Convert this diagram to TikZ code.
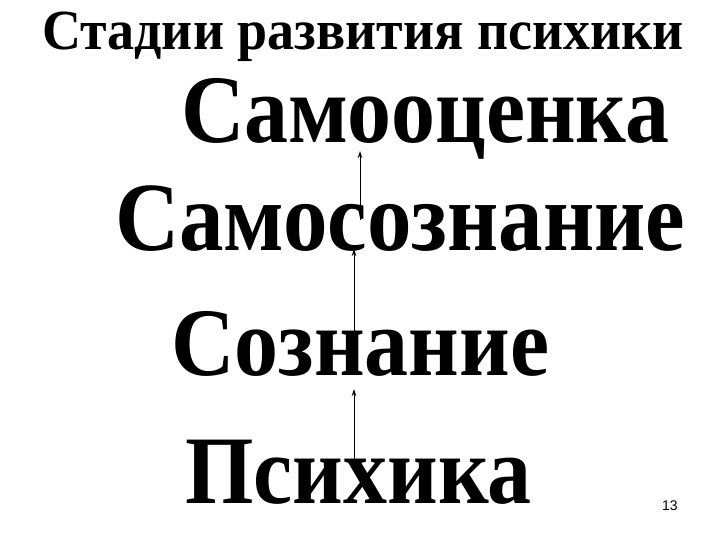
\documentclass[tikz,border=0pt]{standalone}
\usepackage{fontspec}
\setmainfont{Liberation Serif}
\newfontfamily\numfont{Liberation Sans}
\usepackage{graphicx}
\usepackage{tikz}
\usetikzlibrary{arrows.meta}

% words of the stages are set a bit taller than the font
\newcommand{\tallword}[1]{\scalebox{1}[1.1]{#1}}

\tikzset{
	stage/.style={font=\fontsize{88}{92}\selectfont\bfseries, inner sep=0pt, anchor=base west},
	upline/.style={line width=0.9pt, -{Stealth[length=7pt,width=4.5pt]}},
}

\begin{document}
\begin{tikzpicture}[x=1pt,y=1pt,yscale=-1,xscale=1]
	%set diagram to the size of the slide
	\useasboundingbox [fill=white] (0,0) rectangle (720,540);
	
	% Title
	\node (title) at (42,50) [anchor=base west, inner sep=0pt, font=\fontsize{54}{58}\selectfont\bfseries] {\scalebox{1}[1.05]{Стадии развития психики}};
	
	% Text Node
	\node (selfest) at (181,143) [stage] {\tallword{Самооценка}};
	% Text Node
	\node (selfcon) at (115,250) [stage, font=\fontsize{89}{93}\selectfont\bfseries] {\tallword{Самосознание}};
	% Text Node
	\node (consc) at (171,375) [stage] {\tallword{Сознание}};
	% Text Node
	\node (psyche) at (185,503) [stage] {\tallword{Психика}};
	
	% page number
	\node (pagenum) at (662,510) [anchor=base west, inner sep=0pt, font=\numfont\fontsize{14}{16}\selectfont] {13};
	
	% arrow ends
	\coordinate (a1from) at (360,220);
	\coordinate (a1to) at (360,151);
	\coordinate (a2from) at (354,335);
	\coordinate (a2to) at (354,249);
	\coordinate (a3from) at (354,472);
	\coordinate (a3to) at (354,389);
	
	%Straight Lines
	\draw [upline] (a1from) -- (a1to);
	\draw [upline] (a2from) -- (a2to);
	\draw [upline] (a3from) -- (a3to);
	
\end{tikzpicture}
\end{document}
